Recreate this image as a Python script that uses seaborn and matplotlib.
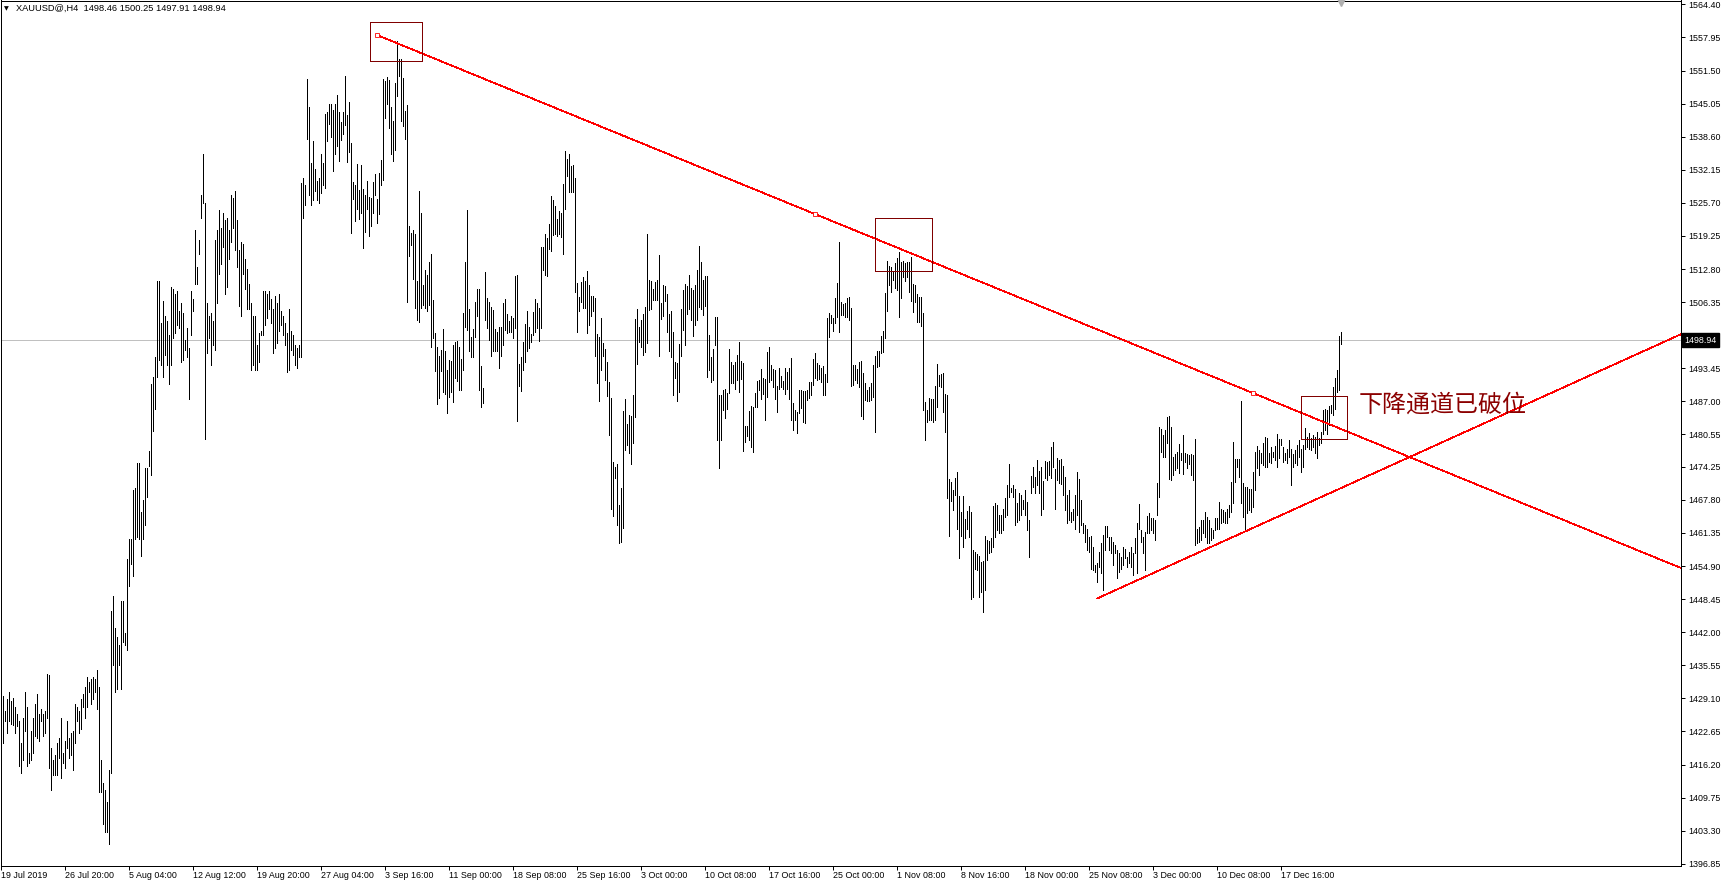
import matplotlib
matplotlib.use("Agg")
import matplotlib.pyplot as plt
import matplotlib.transforms as mtransforms
from matplotlib.patches import Rectangle
import numpy as np
import pandas as pd
import seaborn as sns

# ---------------- data (H4 bars) ----------------
highs = [
1441.9,1429.5,1426.6,1429.0,1430.4,1428.5,1429.2,1427.5,1426.1,1424.7,
1420.4,1425.2,1430.4,1427.5,1418.5,1422.8,1425.2,1428.0,1429.9,1426.1,
1427.1,1426.1,1426.6,1433.9,1433.7,1419.4,1417.0,1418.0,1420.4,1421.3,
1425.2,1418.5,1420.8,1424.7,1421.3,1422.3,1422.8,1428.0,1427.5,1426.6,
1429.0,1429.9,1431.4,1433.3,1432.3,1432.8,1433.3,1432.8,1434.7,1431.4,
1417.0,1412.7,1411.3,1408.9,1415.1,1446.2,1449.1,1442.9,1441.0,1439.5,
1448.1,1448.1,1441.9,1456.3,1460.1,1460.1,1469.7,1470.2,1474.9,1474.9,
1465.4,1467.8,1474.0,1474.0,1477.3,1490.3,1491.7,1495.6,1510.4,1510.4,
1502.3,1506.6,1503.7,1502.7,1499.9,1509.4,1508.9,1508.0,1508.5,1504.6,
1506.1,1504.2,1498.9,1501.3,1497.5,1508.5,1507.0,1520.5,1513.3,1518.5,
1527.2,1535.3,1525.7,1506.1,1503.7,1504.2,1502.7,1518.5,1520.5,1524.3,
1520.9,1523.8,1522.4,1522.8,1520.5,1527.2,1526.7,1528.1,1522.4,1516.6,
1518.0,1517.6,1514.7,1512.8,1509.9,1506.1,1503.7,1503.7,1497.9,1500.3,
1500.8,1508.5,1508.5,1508.0,1508.5,1507.0,1505.1,1507.5,1506.1,1508.0,
1504.6,1503.7,1502.2,1500.3,1505.1,1500.8,1499.9,1497.9,1497.5,1497.9,
1529.5,1530.5,1529.1,1549.8,1544.4,1533.4,1537.7,1532.4,1530.0,1530.5,
1535.3,1533.4,1543.0,1543.4,1544.9,1544.9,1543.9,1544.9,1546.8,1543.4,
1541.4,1543.4,1550.5,1542.8,1545.3,1537.4,1529.8,1529.2,1533.2,1528.2,
1533.1,1528.4,1527.2,1530.0,1526.8,1526.6,1529.8,1531.3,1526.5,1531.5,
1534.0,1549.9,1549.5,1550.2,1549.7,1544.4,1541.6,1549.1,1557.2,1553.7,
1553.7,1550.1,1543.6,1544.8,1521.2,1519.8,1520.4,1519.6,1510.5,1528.0,
1523.7,1509.6,1512.7,1511.7,1514.2,1515.7,1506.7,1500.4,1497.6,1495.9,
1497.1,1501.1,1496.9,1493.2,1495.1,1494.9,1498.0,1498.6,1498.8,1497.6,
1495.3,1504.3,1514.2,1524.3,1505.0,1499.6,1501.1,1506.3,1509.0,1509.0,
1493.9,1489.6,1512.3,1507.1,1506.3,1505.5,1504.8,1501.1,1500.6,1501.6,
1501.5,1506.1,1507.0,1504.0,1502.7,1503.7,1503.2,1511.5,1511.7,1494.3,
1495.7,1498.6,1502.0,1504.7,1501.6,1500.2,1504.5,1506.9,1506.1,1505.2,
1517.1,1517.1,1519.6,1518.8,1521.5,1527.0,1526.2,1525.0,1522.5,1524.1,
1523.8,1529.3,1535.8,1534.2,1535.2,1532.9,1533.1,1530.6,1510.0,1507.4,
1510.2,1511.2,1510.5,1512.4,1509.7,1507.5,1507.6,1507.1,1500.1,1499.5,
1503.2,1498.3,1497.3,1494.7,1490.8,1487.7,1475.1,1474.2,1474.8,1466.9,
1470.2,1485.2,1487.5,1482.5,1484.3,1484.2,1488.2,1503.0,1505.1,1501.5,
1502.8,1504.0,1505.5,1519.6,1510.7,1510.4,1509.0,1510.2,1510.6,1515.5,
1506.1,1509.7,1509.5,1508.0,1504.0,1504.7,1500.6,1494.6,1494.4,1498.2,
1505.1,1508.8,1509.9,1509.5,1511.6,1509.2,1508.7,1509.6,1512.6,1517.3,
1514.2,1510.7,1511.4,1511.4,1500.0,1495.7,1497.3,1503.4,1503.5,1488.2,
1488.2,1489.2,1489.5,1488.7,1497.2,1494.6,1494.0,1494.6,1496.0,1498.5,
1494.9,1494.4,1482.2,1482.2,1485.2,1486.1,1486.0,1488.7,1491.0,1491.2,
1493.4,1491.6,1491.3,1496.6,1497.7,1494.1,1493.4,1493.1,1490.0,1493.6,
1492.0,1491.0,1493.6,1492.8,1493.6,1495.4,1486.7,1485.3,1484.9,1489.2,
1489.2,1489.1,1489.0,1489.3,1490.8,1490.8,1495.2,1496.4,1494.4,1494.0,
1493.6,1493.9,1492.3,1503.3,1504.2,1503.8,1503.2,1507.1,1510.0,1518.1,
1506.4,1506.0,1506.2,1507.2,1507.4,1505.3,1494.0,1494.1,1493.3,1494.7,
1494.9,1492.6,1490.5,1489.3,1489.8,1490.5,1494.1,1495.9,1496.8,1496.9,
1499.8,1500.8,1508.1,1514.4,1513.4,1513.3,1512.5,1514.0,1515.0,1516.1,
1514.2,1514.4,1514.0,1514.1,1514.2,1515.2,1509.9,1509.7,1507.9,1507.4,
1507.3,1504.2,1486.8,1485.3,1487.7,1487.4,1487.5,1490.0,1494.3,1492.1,
1492.3,1492.5,1488.4,1488.2,1471.8,1471.3,1469.7,1472.1,1473.2,1468.6,
1465.5,1468.6,1464.0,1465.7,1466.6,1465.5,1458.0,1457.7,1457.2,1456.8,
1455.7,1455.9,1460.8,1460.0,1459.8,1460.3,1466.6,1467.1,1466.9,1464.8,
1464.8,1466.1,1468.2,1470.7,1474.8,1470.2,1470.7,1470.0,1467.1,1469.2,
1468.7,1467.8,1469.7,1467.4,1463.9,1472.4,1474.3,1472.3,1475.6,1473.4,
1474.3,1471.5,1475.4,1475.2,1475.4,1478.2,1479.0,1473.9,1475.9,1475.6,
1475.7,1474.5,1472.3,1468.7,1469.7,1465.5,1466.1,1468.7,1473.3,1471.8,
1467.8,1463.2,1462.9,1462.1,1460.6,1460.8,1458.7,1455.1,1455.4,1457.6,
1459.3,1461.0,1462.8,1462.8,1460.6,1460.6,1459.6,1459.1,1458.0,1457.4,
1456.7,1458.7,1458.3,1456.7,1457.7,1458.7,1457.4,1460.3,1463.2,1467.0,
1461.9,1460.6,1461.6,1464.7,1465.2,1464.2,1464.2,1463.9,1471.0,1482.1,
1481.7,1480.4,1481.4,1484.0,1484.1,1482.1,1476.2,1476.7,1477.1,1478.6,
1476.9,1480.4,1476.9,1476.8,1476.5,1476.7,1476.5,1479.6,1462.2,1462.6,
1463.9,1463.9,1465.5,1464.5,1463.9,1462.4,1461.9,1464.3,1464.2,1467.4,
1466.1,1465.8,1465.5,1466.1,1466.8,1471.2,1479.0,1475.8,1475.7,1475.7,
1487.0,1471.0,1470.4,1470.4,1470.0,1470.0,1473.3,1477.2,1478.3,1477.5,
1476.9,1478.8,1480.1,1479.8,1476.9,1478.2,1477.2,1478.3,1480.6,1479.6,
1479.6,1478.2,1476.9,1477.8,1479.5,1477.8,1476.7,1477.5,1478.5,1479.5,
1477.8,1478.5,1481.9,1480.1,1480.8,1479.8,1480.4,1480.1,1481.1,1479.8,
1481.1,1485.3,1485.6,1485.3,1486.1,1486.3,1489.9,1491.5,1493.1,1499.7,
1500.5]

lows = [
1423.2,1420.4,1424.7,1422.3,1424.7,1424.2,1424.0,1422.3,1423.7,1416.0,
1414.6,1417.0,1422.8,1416.0,1416.5,1417.0,1418.5,1421.8,1421.3,1420.8,
1424.7,1421.8,1422.3,1425.2,1415.6,1411.3,1414.1,1414.1,1414.1,1417.5,
1413.6,1416.5,1415.6,1419.4,1417.5,1418.0,1415.1,1420.4,1424.7,1422.3,
1423.2,1427.5,1425.2,1427.5,1430.4,1428.0,1428.9,1430.4,1427.1,1410.8,
1410.8,1404.6,1403.1,1403.1,1400.7,1414.6,1435.7,1430.4,1430.9,1435.7,
1430.9,1440.0,1439.5,1438.6,1451.0,1455.3,1452.9,1460.1,1460.6,1460.1,
1456.8,1460.1,1463.0,1468.3,1474.5,1472.6,1481.2,1485.5,1491.7,1495.1,
1494.1,1491.7,1496.0,1494.1,1490.3,1494.1,1499.4,1500.3,1501.8,1501.3,
1494.6,1495.1,1497.0,1495.6,1487.4,1499.9,1504.6,1509.9,1509.9,1515.7,
1522.8,1525.7,1479.7,1496.5,1499.4,1494.1,1497.9,1497.0,1506.1,1511.8,
1513.7,1517.1,1508.0,1509.4,1514.7,1518.0,1520.9,1516.6,1513.3,1505.6,
1503.7,1511.8,1508.9,1505.1,1505.1,1493.2,1494.1,1493.2,1493.2,1494.6,
1499.9,1499.9,1501.8,1503.2,1505.1,1502.2,1496.5,1497.5,1498.4,1500.8,
1501.8,1499.9,1497.9,1492.7,1493.2,1497.0,1496.0,1494.1,1493.6,1495.6,
1495.6,1522.8,1525.2,1538.2,1527.2,1525.2,1526.2,1528.1,1526.2,1525.7,
1527.6,1529.1,1528.6,1537.7,1541.0,1538.6,1531.9,1535.3,1536.7,1533.9,
1537.9,1539.2,1540.9,1533.7,1535.7,1519.8,1526.5,1522.1,1524.5,1522.5,
1523.8,1517.0,1520.1,1524.5,1519.3,1521.1,1523.8,1527.2,1521.7,1523.5,
1529.2,1530.2,1542.2,1545.0,1540.3,1535.2,1533.9,1536.1,1546.6,1550.5,
1541.7,1540.6,1538.2,1506.3,1515.3,1517.4,1510.8,1505.3,1502.9,1502.5,
1505.2,1505.8,1505.3,1504.7,1505.7,1497.6,1499.3,1492.9,1486.5,1487.7,
1492.9,1488.9,1488.4,1484.7,1487.9,1488.9,1486.9,1491.6,1490.9,1489.3,
1489.2,1493.2,1501.6,1501.0,1496.9,1495.6,1495.6,1499.6,1503.7,1489.3,
1485.9,1486.7,1502.8,1501.3,1499.0,1495.9,1496.9,1496.9,1496.9,1493.6,
1495.9,1497.9,1501.0,1500.4,1500.6,1500.6,1499.4,1501.3,1483.2,1490.1,
1489.1,1493.2,1494.7,1496.9,1497.4,1498.6,1500.0,1500.6,1501.3,1498.8,
1501.3,1512.7,1511.7,1511.4,1516.8,1516.4,1519.4,1519.6,1519.3,1519.6,
1519.1,1515.7,1524.6,1530.9,1527.8,1527.8,1527.8,1508.4,1500.5,1504.7,
1506.3,1505.2,1505.3,1500.3,1501.9,1503.7,1504.7,1495.9,1490.6,1487.0,
1493.2,1495.9,1491.2,1488.1,1480.5,1466.1,1464.7,1472.1,1463.0,1459.3,
1459.5,1462.4,1477.5,1478.5,1477.0,1474.8,1478.8,1484.0,1494.3,1498.6,
1497.6,1496.1,1496.6,1498.3,1504.8,1505.1,1506.7,1506.7,1506.7,1495.8,
1503.0,1503.6,1506.5,1500.5,1496.9,1495.6,1488.2,1491.6,1487.1,1488.9,
1495.9,1500.9,1497.9,1504.0,1505.1,1502.9,1499.7,1501.8,1502.9,1505.5,
1505.1,1503.8,1505.6,1491.8,1493.1,1490.8,1491.2,1498.0,1479.5,1474.1,
1479.5,1485.3,1483.7,1485.6,1488.7,1490.5,1490.5,1489.5,1491.2,1488.8,
1491.4,1477.4,1479.0,1480.2,1479.5,1478.2,1477.2,1486.0,1486.0,1489.2,
1487.5,1488.4,1483.4,1487.9,1490.8,1491.2,1489.9,1487.5,1485.0,1489.5,
1489.9,1489.4,1488.4,1489.5,1487.4,1483.4,1481.4,1483.4,1480.9,1484.7,
1485.8,1483.0,1482.7,1487.3,1487.7,1488.2,1490.2,1491.5,1491.2,1491.3,
1490.8,1488.2,1488.2,1490.8,1499.6,1502.2,1500.8,1502.3,1503.5,1500.6,
1503.8,1503.8,1503.5,1503.5,1502.9,1490.1,1490.2,1491.2,1490.5,1489.9,
1484.1,1483.6,1487.3,1487.1,1487.0,1487.3,1487.9,1481.1,1493.8,1493.9,
1496.4,1496.7,1499.3,1504.7,1509.7,1508.4,1510.7,1509.2,1508.7,1503.4,
1507.1,1511.2,1510.5,1511.3,1508.4,1506.6,1504.5,1506.4,1502.5,1502.5,
1501.7,1485.3,1479.5,1483.0,1483.4,1483.4,1483.0,1483.4,1486.0,1490.1,
1489.9,1484.9,1481.1,1468.1,1460.7,1467.5,1465.8,1468.7,1462.2,1456.4,
1460.7,1458.7,1460.3,1462.2,1460.6,1448.4,1448.9,1454.3,1454.1,1448.9,
1449.9,1445.9,1450.2,1456.1,1457.4,1457.7,1458.7,1460.6,1461.9,1461.3,
1461.3,1461.9,1464.5,1464.8,1468.4,1469.4,1468.4,1462.9,1463.5,1463.9,
1464.8,1466.1,1464.8,1461.9,1456.6,1469.1,1470.4,1469.1,1470.7,1469.1,
1464.8,1466.1,1472.0,1471.7,1472.6,1472.0,1474.3,1466.1,1471.7,1471.0,
1470.9,1468.7,1465.9,1463.2,1463.9,1463.4,1463.9,1462.2,1464.8,1461.6,
1462.9,1461.3,1459.6,1458.0,1457.7,1454.4,1454.1,1453.8,1451.8,1454.8,
1453.5,1450.2,1458.0,1460.6,1458.0,1457.4,1455.1,1457.4,1452.5,1453.8,
1454.4,1455.1,1456.4,1454.8,1455.4,1454.8,1453.2,1457.4,1453.5,1462.2,
1459.6,1457.4,1454.1,1461.3,1461.3,1461.9,1461.3,1460.0,1464.8,1468.4,
1477.2,1476.2,1476.2,1478.8,1471.8,1471.7,1472.6,1473.6,1474.0,1473.0,
1475.6,1472.8,1475.2,1474.0,1474.8,1472.6,1471.7,1459.0,1459.3,1459.6,
1460.0,1461.3,1460.6,1459.3,1459.3,1460.0,1460.3,1461.9,1462.2,1462.2,
1463.2,1463.5,1463.2,1463.2,1464.5,1465.5,1467.1,1471.3,1474.3,1472.3,
1467.1,1464.5,1461.9,1465.2,1465.8,1465.5,1466.5,1469.7,1474.0,1472.6,
1474.9,1474.6,1474.3,1474.3,1475.2,1474.9,1476.2,1475.6,1474.3,1475.9,
1478.5,1475.2,1475.6,1474.9,1476.2,1470.7,1474.3,1474.9,1474.6,1476.2,
1473.3,1474.3,1477.8,1478.2,1477.8,1477.5,1478.2,1476.9,1475.9,1478.5,
1478.8,1480.6,1481.4,1480.6,1482.4,1484.7,1484.3,1485.5,1488.9,1489.2,
1498.2]

# time axis labels (one every 32 bars)
xtick_labels = ["19 Jul 2019", "26 Jul 20:00", "5 Aug 04:00", "12 Aug 12:00",
                "19 Aug 20:00", "27 Aug 04:00", "3 Sep 16:00", "11 Sep 00:00",
                "18 Sep 08:00", "25 Sep 16:00", "3 Oct 00:00", "10 Oct 08:00",
                "17 Oct 16:00", "25 Oct 00:00", "1 Nov 08:00", "8 Nov 16:00",
                "18 Nov 00:00", "25 Nov 08:00", "3 Dec 00:00", "10 Dec 08:00",
                "17 Dec 16:00"]
xtick_bars = [32 * k for k in range(len(xtick_labels))]

ytick_values = [1564.40, 1557.95, 1551.50, 1545.05, 1538.60, 1532.15, 1525.70,
                1519.25, 1512.80, 1506.35, 1499.90, 1493.45, 1487.00, 1480.55,
                1474.25, 1467.80, 1461.35, 1454.90, 1448.45, 1442.00, 1435.55,
                1429.10, 1422.65, 1416.20, 1409.75, 1403.30, 1396.85]
ytick_labels = ["%.2f" % v for v in ytick_values]

last_price = 1498.94
header = "XAUUSD@,H4  1498.46 1500.25 1497.91 1498.94"

# trend lines (bar index, price)
trend_down_bars = [188.15, 626.15]
trend_down_prices = [1558.4, 1488.6]
trend_up_bars = [548.15, 840.0]
trend_up_prices = [1448.6, 1500.1]

# highlight boxes: (bar_left, bar_right, price_low, price_high)
box_bars = [(184.5, 210.25), (437.15, 465.35), (650.15, 672.85)]
box_prices = [(1553.46, 1560.97), (1512.36, 1522.69), (1479.60, 1487.98)]

note_text = "下降通道已破位"
note_bar, note_price = 679.0, 1486.3

# ---------------- drawing ----------------
sns.set_theme(style="white")
plt.rcParams["font.family"] = ["Liberation Sans", "DejaVu Sans"]

W, H = 1721, 882
fig = plt.figure(figsize=(W / 100, H / 100), dpi=100)
ax = fig.add_axes([0.5 / W, (H - 865.5) / H, 1680.5 / W, 865.0 / H])

n = len(highs)
bars = np.arange(n)
df = pd.DataFrame({
    "bar": np.concatenate([bars, bars]),
    "price": np.concatenate([np.array(lows), np.array(highs)]),
})
sns.lineplot(data=df, x="bar", y="price", units="bar", estimator=None,
             color="black", linewidth=0.72, antialiased=False, ax=ax,
             legend=False, sort=False)

ax.set_xlim(-0.25, 840.0)
ax.set_ylim(1396.52, 1565.16)

# last price grey line
ax.axhline(last_price, color="#C0C0C0", lw=0.7, antialiased=False, zorder=0)

# descending trend line (ray to the right edge)
x_end = ax.get_xlim()[1]
slope_d = (trend_down_prices[1] - trend_down_prices[0]) / (trend_down_bars[1] - trend_down_bars[0])
ax.plot([trend_down_bars[0], x_end],
        [trend_down_prices[0], trend_down_prices[0] + slope_d * (x_end - trend_down_bars[0])],
        color="red", lw=0.55, antialiased=False, zorder=3)
mid_b = (trend_down_bars[0] + trend_down_bars[1]) / 2
mid_p = (trend_down_prices[0] + trend_down_prices[1]) / 2
ax.plot([trend_down_bars[0], mid_b, trend_down_bars[1]],
        [trend_down_prices[0], mid_p, trend_down_prices[1]],
        ls="none", marker="s", ms=3.4, mfc="white", mec="red", mew=0.6, zorder=4)

# ascending trend line
ax.plot(trend_up_bars, trend_up_prices, color="red", lw=0.55,
        antialiased=False, zorder=3)

# boxes
for (b0, b1), (p0, p1) in zip(box_bars, box_prices):
    ax.add_patch(Rectangle((b0, p0), b1 - b0, p1 - p0, fill=False,
                           edgecolor="#800000", lw=0.6, antialiased=False, zorder=4))

ax.text(note_bar, note_price, note_text, fontsize=17.3, color="#8B0000",
        family=["Noto Sans CJK SC", "DejaVu Sans"], va="center", ha="left", zorder=5)

# axes styling
for s in ax.spines.values():
    s.set_visible(True)
    s.set_color("black")
    s.set_linewidth(0.72)

ax.set_xlabel("")
ax.set_ylabel("")
ax.yaxis.tick_right()
ax.set_yticks(ytick_values)
ax.set_yticklabels(ytick_labels)
ax.set_xticks(xtick_bars)
ax.set_xticklabels(xtick_labels)
ax.tick_params(axis="y", which="both", right=True, left=False, labelright=True,
               labelleft=False, length=3, width=0.72, pad=2.2, labelsize=6.4,
               colors="black", direction="out")
ax.tick_params(axis="x", which="both", bottom=True, top=False, length=3,
               width=0.72, pad=1.0, labelsize=6.4, colors="black", direction="out")
for lab in ax.get_xticklabels():
    lab.set_horizontalalignment("left")
ax.grid(False)

# last price box on the price scale (covers the 1499.90 label as in MT4)
trans = mtransforms.blended_transform_factory(ax.transAxes, ax.transData)
ax.text(1.0022, last_price, "%.2f" % last_price, transform=trans, ha="left",
        va="center", color="white", fontsize=6.4, clip_on=False, zorder=6,
        bbox=dict(boxstyle="square,pad=0.28", fc="black", ec="black"))

# chart shift marker at top
ax.plot([n - 1], [1564.8], marker="v", ms=6, color="#B0B0B0", mec="#B0B0B0",
        clip_on=False, zorder=6)

# header
fig.text(4 / W, 1 - 8.7 / H, "▼", fontsize=4.5, family="DejaVu Sans",
         va="center", ha="left", color="black")
fig.text(15.5 / W, 1 - 8.5 / H, header, fontsize=6.65, va="center",
         ha="left", color="black")

fig.savefig("out.png", dpi=100, facecolor="white")
